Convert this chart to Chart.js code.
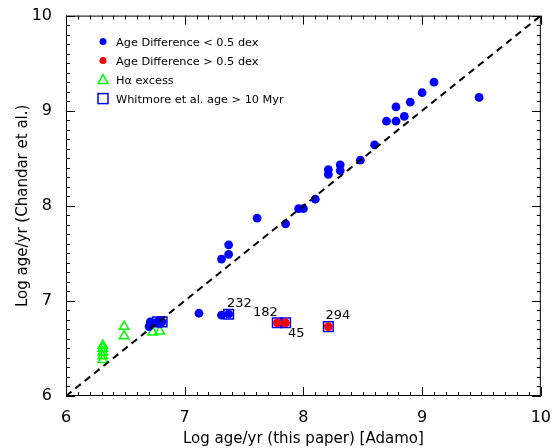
<!DOCTYPE html>
<html>
<head>
<meta charset="utf-8">
<script src="https://cdn.jsdelivr.net/npm/chart.js"></script>
<style>
  html, body { margin: 0; padding: 0; background: #fff; }
  #wrap { width: 555px; height: 448px; }
</style>
</head>
<body>
<div id="wrap"><canvas id="c"></canvas></div>
<script>
// --- data ---
const blueX = [9.48, 9.10, 9.00, 8.90, 8.78, 8.70, 8.78, 8.85, 8.60, 8.48, 8.31, 8.31, 8.21, 8.21, 8.10, 8.00, 7.96, 7.85, 7.61, 7.37, 7.37, 7.31, 7.12, 7.31, 7.37, 6.70, 6.71, 6.77, 6.81];
const blueY = [9.14, 9.30, 9.19, 9.09, 9.04, 8.89, 8.89, 8.94, 8.64, 8.48, 8.43, 8.37, 8.38, 8.33, 8.07, 7.97, 7.97, 7.81, 7.87, 7.59, 7.49, 7.44, 6.87, 6.85, 6.86, 6.73, 6.78, 6.78, 6.78];
const redX = [7.78, 7.85, 8.21];
const redY = [6.77, 6.77, 6.73];
const greenX = [6.31, 6.31, 6.31, 6.31, 6.31, 6.49, 6.49, 6.73, 6.73, 6.79];
const greenY = [6.53, 6.50, 6.46, 6.42, 6.38, 6.73, 6.63, 6.77, 6.67, 6.68];
const squareX = [7.37, 7.78, 7.85, 8.21, 6.77, 6.81];
const squareY = [6.86, 6.77, 6.77, 6.73, 6.78, 6.78];
const labelText = ['232', '182', '45', '294'];
const labelX = [7.46, 7.68, 7.94, 8.29];
const labelY = [6.97, 6.88, 6.66, 6.84];
const legendText = ['Age Difference < 0.5 dex', 'Age Difference > 0.5 dex', 'H\u03b1 excess', 'Whitmore et al. age > 10 Myr'];
const axisMin = 6, axisMax = 10;

const FONT = '"DejaVu Sans", sans-serif';
const pts = (xs, ys) => xs.map((x, i) => ({ x: x, y: ys[i] }));

// IDL style: inward ticks on all four sides, frame, legend and labels
const idlPlugin = {
  id: 'idl',
  afterDraw(chart) {
    const ctx = chart.ctx, a = chart.chartArea;
    const xs = chart.scales.x, ys = chart.scales.y;
    ctx.save();
    ctx.strokeStyle = '#000';
    ctx.lineWidth = 1;
    ctx.strokeRect(a.left + 0.5, a.top + 0.5, a.right - a.left - 1, a.bottom - a.top - 1);
    ctx.beginPath();
    for (let i = 0; i <= 40; i++) {
      const v = axisMin + i * 0.1;
      const len = (i % 10 === 0) ? 9 : 4;
      const px = Math.round(xs.getPixelForValue(v)) + 0.5;
      const py = Math.round(ys.getPixelForValue(v)) + 0.5;
      ctx.moveTo(px, a.bottom); ctx.lineTo(px, a.bottom - len);
      ctx.moveTo(px, a.top); ctx.lineTo(px, a.top + len);
      ctx.moveTo(a.left, py); ctx.lineTo(a.left + len, py);
      ctx.moveTo(a.right, py); ctx.lineTo(a.right - len, py);
    }
    ctx.stroke();

    // point labels
    ctx.fillStyle = '#000';
    ctx.font = '13px ' + FONT;
    ctx.textAlign = 'center';
    ctx.textBaseline = 'middle';
    labelText.forEach((t, i) => {
      ctx.fillText(t, xs.getPixelForValue(labelX[i]), ys.getPixelForValue(labelY[i]));
    });

    // legend
    const lx = a.left + 37, ly0 = a.top + 26, dy = 19;
    ctx.font = '11.3px ' + FONT;
    ctx.textAlign = 'left';
    legendText.forEach((t, i) => {
      const y = ly0 + i * dy;
      ctx.beginPath();
      if (i === 0 || i === 1) {
        ctx.fillStyle = i === 0 ? '#0000ff' : '#ff0000';
        ctx.arc(lx, y, 3.5, 0, Math.PI * 2);
        ctx.fill();
      } else if (i === 2) {
        ctx.strokeStyle = '#00ff00';
        ctx.lineWidth = 1.5;
        ctx.moveTo(lx - 5, y + 4); ctx.lineTo(lx + 5, y + 4); ctx.lineTo(lx, y - 5); ctx.closePath();
        ctx.stroke();
      } else {
        ctx.strokeStyle = '#0000ff';
        ctx.lineWidth = 1.5;
        ctx.strokeRect(lx - 5, y - 5, 10, 10);
      }
      ctx.fillStyle = '#000';
      ctx.fillText(t, lx + 13, y + 1);
    });
    ctx.restore();
  }
};

new Chart(document.getElementById('c'), {
  type: 'scatter',
  data: {
    datasets: [
      { type: 'line', data: [{ x: 6, y: 6 }, { x: 10, y: 10 }], borderColor: '#000', borderWidth: 2,
        borderDash: [7, 5], pointRadius: 0, fill: false },
      { data: pts(blueX, blueY), backgroundColor: '#0000ff', borderColor: '#0000ff', pointRadius: 4.4, borderWidth: 0 },
      { data: pts(redX, redY), backgroundColor: '#ff0000', borderColor: '#ff0000', pointRadius: 4.4, borderWidth: 0 },
      { data: pts(squareX, squareY), pointStyle: 'rect', backgroundColor: 'rgba(0,0,0,0)', borderColor: '#0000ff',
        pointRadius: 6.8, borderWidth: 1.5 },
      { data: pts(greenX, greenY), pointStyle: 'triangle', backgroundColor: 'rgba(0,0,0,0)', borderColor: '#00ff00',
        pointRadius: 5.5, borderWidth: 1.5 }
    ]
  },
  options: {
    responsive: true,
    maintainAspectRatio: false,
    animation: false,
    layout: { padding: { top: 15, right: 10, left: 0, bottom: 0 } },
    plugins: { legend: { display: false }, tooltip: { enabled: false } },
    scales: {
      x: {
        type: 'linear', min: axisMin, max: axisMax,
        grid: { display: false },
        border: { display: false },
        ticks: { stepSize: 1, color: '#000', font: { family: FONT, size: 16 }, padding: 4, maxRotation: 0 },
        title: { display: true, text: 'Log age/yr (this paper) [Adamo]', color: '#000',
          font: { family: FONT, size: 15 }, padding: { top: 0, bottom: 0 } },
        afterFit(s) { s.height = 52; }
      },
      y: {
        type: 'linear', min: axisMin, max: axisMax,
        grid: { display: false },
        border: { display: false },
        ticks: { stepSize: 1, color: '#000', font: { family: FONT, size: 16 }, padding: 6 },
        title: { display: true, text: 'Log age/yr (Chandar et al.)', color: '#000',
          font: { family: FONT, size: 15 }, padding: { top: 14, bottom: 0 } },
        afterFit(s) { s.width = 66; }
      }
    }
  },
  plugins: [idlPlugin]
});
</script>
</body>
</html>
